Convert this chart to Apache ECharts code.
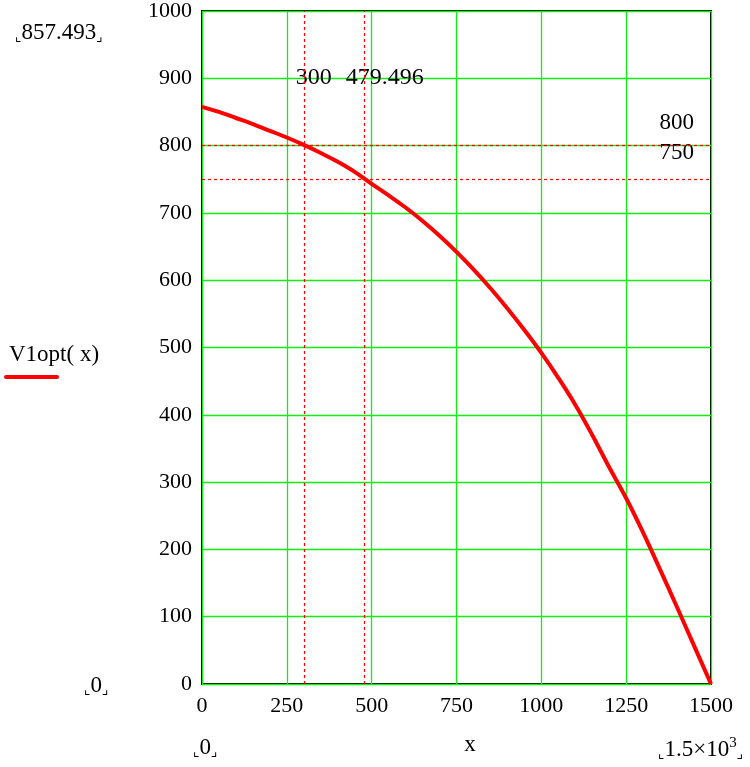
<!DOCTYPE html>
<html>
<head>
<meta charset="utf-8">
<script src="https://cdn.jsdelivr.net/npm/echarts@6/dist/echarts.min.js"></script>
<style>
html,body{margin:0;padding:0;background:#fff;}
#c{width:750px;height:767px;}
</style>
</head>
<body>
<div id="c"></div>
<script>
// data
const xValues = [0, 50, 100, 150, 200, 250, 300, 350, 400, 450, 500, 550, 600, 650, 700, 750, 800, 850, 900, 950, 1000, 1050, 1100, 1150, 1200, 1250, 1300, 1350, 1400, 1450, 1500];
const v1opt   = [857.493, 850, 841, 832, 822, 812, 801, 789, 776, 761, 743, 726, 708, 688, 666, 642, 616, 588, 558, 526, 492, 455, 415, 370, 322, 276, 225, 170, 114, 57, 0];
const xMarkers = [300, 479.496];
const yMarkers = [800, 750];
const xRange = [0, 1500];
const yRange = [0, 1000];
const legendLabel = 'V1opt( x)';
const xAxisLabel = 'x';

const FONT = '"Liberation Serif", "Times New Roman", serif';
const chart = echarts.init(document.getElementById('c'), null, {renderer: 'canvas'});

const curve = xValues.map((x, i) => [x, v1opt[i]]);

chart.setOption({
  animation: false,
  backgroundColor: '#fff',
  grid: {left: 202, top: 11, width: 509, height: 673, show: true, borderColor: '#000', borderWidth: 2, backgroundColor: 'transparent'},
  xAxis: {
    type: 'value', min: xRange[0], max: xRange[1], interval: 250,
    axisLine: {show: false}, axisTick: {show: false},
    axisLabel: {color: '#000', fontFamily: FONT, fontSize: 22, margin: 11, formatter: v => String(v)},
    splitLine: {show: true, lineStyle: {color: '#11ee11', width: 1.3}}
  },
  yAxis: {
    type: 'value', min: yRange[0], max: yRange[1], interval: 100,
    axisLine: {show: false}, axisTick: {show: false},
    axisLabel: {color: '#000', fontFamily: FONT, fontSize: 22, margin: 10, formatter: v => String(v)},
    splitLine: {show: true, lineStyle: {color: '#11ee11', width: 1.3}}
  },
  series: [
    {
      type: 'line', data: [], silent: true,
      markLine: {
        silent: true, symbol: 'none', animation: false,
        label: {show: false},
        lineStyle: {color: '#ff0000', width: 1.2, type: [3, 3]},
        data: xMarkers.map(v => ({xAxis: v})).concat(yMarkers.map(v => ({yAxis: v})))
      }
    },
    {
      type: 'line', data: curve, smooth: 0.4, showSymbol: false, silent: true,
      lineStyle: {color: '#ff0000', width: 4}, z: 5
    }
  ]
});

const txt = (x, y, text, size, opts) => Object.assign({
  type: 'text', x: x, y: y,
  style: Object.assign({text: text, fill: '#000', font: size + 'px ' + FONT, textVerticalAlign: 'middle'}, opts || {})
});

const rich = {
  b: {fontSize: 14, fontFamily: 'DejaVu Sans', fill: '#000', padding: [8, 0, 0, 0]},
  n: {fontSize: 23, fontFamily: FONT},
  s: {fontSize: 15, fontFamily: FONT, padding: [0, 0, 13, 0]}
};
const graphics = [];
// marker labels placed via the chart's scales
const xLabelShift = [-8, -19];
xMarkers.forEach((v, i) => {
  const p = chart.convertToPixel({gridIndex: 0}, [v, 900]);
  graphics.push(txt(p[0] + xLabelShift[i], p[1] - 1, String(v), 24, {textAlign: 'left'}));
});
const yLabelShift = [-23, -26];
yMarkers.forEach((v, i) => {
  const p = chart.convertToPixel({gridIndex: 0}, [1500, v]);
  graphics.push(txt(p[0] - 17, p[1] + yLabelShift[i], String(v), 23, {textAlign: 'right'}));
});
// limit annotations
graphics.push({type: 'text', x: 15, y: 33, style: {text: '{b|⌞}{n|' + v1opt[0] + '}{b|⌟}', rich: rich, fill: '#000', textVerticalAlign: 'middle'}});
graphics.push({type: 'text', x: 84, y: 686, style: {text: '{b|⌞}{n|0}{b|⌟}', rich: rich, fill: '#000', textVerticalAlign: 'middle'}});
graphics.push({type: 'text', x: 193, y: 748, style: {text: '{b|⌞}{n|0}{b|⌟}', rich: rich, fill: '#000', textVerticalAlign: 'middle'}});
graphics.push({type: 'text', x: 658, y: 750, style: {text: '{b|⌞}{n|1.5×10}{s|3}{b|⌟}', rich: rich, fill: '#000', textVerticalAlign: 'middle'}});
graphics.push(txt(470, 745, xAxisLabel, 23, {textAlign: 'center'}));
// legend
graphics.push(txt(9, 355, legendLabel, 23, {textAlign: 'left'}));
graphics.push({type: 'line', shape: {x1: 6, y1: 377, x2: 57, y2: 377}, style: {stroke: '#ff0000', lineWidth: 4, lineCap: 'round'}});

chart.setOption({graphic: graphics});
</script>
</body>
</html>
